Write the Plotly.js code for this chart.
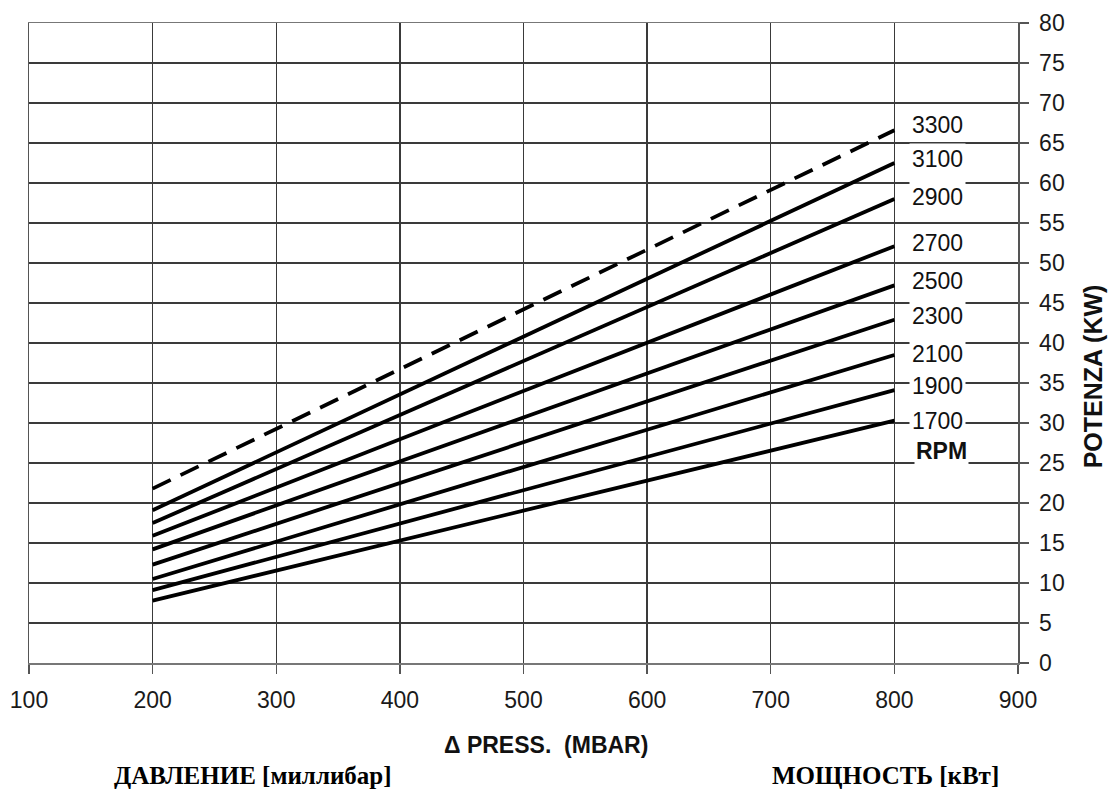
<!DOCTYPE html>
<html>
<head>
<meta charset="utf-8">
<script src="https://cdn.plot.ly/plotly-3.0.1.min.js"></script>
<style>html,body{margin:0;padding:0;background:#fff;}#chart{width:1109px;height:791px;}</style>
</head>
<body>
<div id="chart"></div>
<script>
// Data
const pressure = [200, 800];                       // Δ PRESS (MBAR)
const rpm = ['3300', '3100', '2900', '2700', '2500', '2300', '2100', '1900', '1700'];
const powerAt200 = [21.8, 19.1, 17.5, 15.9, 14.2, 12.3, 10.5, 9.1, 7.8];   // KW at 200 mbar
const powerAt800 = [66.6, 62.5, 58.0, 52.1, 47.2, 42.9, 38.5, 34.1, 30.3]; // KW at 800 mbar
const labelY = [67.3, 63.0, 58.2, 52.5, 47.7, 43.4, 38.6, 34.6, 30.2];     // label positions
const labelX = 835;
const rpmUnit = 'RPM';
const rpmUnitY = 26.45;
const xTicks = [100, 200, 300, 400, 500, 600, 700, 800, 900];
const yTicks = [0, 5, 10, 15, 20, 25, 30, 35, 40, 45, 50, 55, 60, 65, 70, 75, 80];

const traces = rpm.map((r, i) => ({
  type: 'scatter', mode: 'lines', name: r + ' RPM',
  x: pressure, y: [powerAt200[i], powerAt800[i]],
  line: {color: '#000', width: 3.8, dash: r === '3300' ? '20px,11px' : 'solid'},
  hoverinfo: 'x+y+name'
}));

const annotations = rpm.map((r, i) => ({
  x: labelX, y: labelY[i], xref: 'x', yref: 'y', text: r, showarrow: false,
  xanchor: 'center', yanchor: 'middle', bgcolor: '#fff', borderpad: 2,
  font: {family: 'Liberation Sans, Arial, sans-serif', size: 23, color: '#111'}
}));
annotations.push({
  x: labelX + 3, y: rpmUnitY, xref: 'x', yref: 'y', text: '<b>' + rpmUnit + '</b>', showarrow: false,
  xanchor: 'center', yanchor: 'middle', bgcolor: '#fff', borderpad: 1,
  font: {family: 'Liberation Sans, Arial, sans-serif', size: 23, color: '#111'}
});
annotations.push({
  x: 0.418, y: -0.1275, xref: 'paper', yref: 'paper', xanchor: 'left', yanchor: 'middle',
  text: '<b>Δ PRESS.\u00a0\u00a0(MBAR)</b>', showarrow: false,
  font: {family: 'Liberation Sans, Arial, sans-serif', size: 23, color: '#111'}
});
annotations.push({
  x: 1.0761, y: 0.4483, xref: 'paper', yref: 'paper', xanchor: 'center', yanchor: 'middle',
  textangle: -90, text: '<b>POTENZA (KW)</b>', showarrow: false,
  font: {family: 'Liberation Sans, Arial, sans-serif', size: 25, color: '#111'}
});
annotations.push({
  x: 0.226, y: -0.176, xref: 'paper', yref: 'paper', xanchor: 'center', yanchor: 'middle',
  text: '<b>ДАВЛЕНИЕ [миллибар]</b>', showarrow: false,
  font: {family: 'Liberation Serif, Times New Roman, serif', size: 25, color: '#000'}
});
annotations.push({
  x: 0.866, y: -0.176, xref: 'paper', yref: 'paper', xanchor: 'center', yanchor: 'middle',
  text: '<b>МОЩНОСТЬ [кВт]</b>', showarrow: false,
  font: {family: 'Liberation Serif, Times New Roman, serif', size: 25, color: '#000'}
});

const tickFont = {family: 'Liberation Sans, Arial, sans-serif', size: 23, color: '#1a1a1a'};

const layout = {
  width: 1109, height: 791,
  margin: {l: 28.5, r: 91.3, t: 22.5, b: 127.7, pad: 0},
  paper_bgcolor: '#fff', plot_bgcolor: '#fff',
  showlegend: false,
  xaxis: {
    range: [100, 900], tickvals: xTicks, ticktext: xTicks.map(String),
    showgrid: true, gridcolor: '#3a3a3a', gridwidth: 1.3,
    zeroline: false, showline: true, linecolor: '#777', linewidth: 1.5, mirror: true,
    ticks: 'outside', ticklen: 9, tickcolor: '#555', tickwidth: 1.3,
    ticklabelstandoff: 7, tickfont: tickFont, fixedrange: true
  },
  yaxis: {
    range: [0, 80], tickvals: yTicks, ticktext: yTicks.map(String), side: 'right',
    showgrid: true, gridcolor: '#3a3a3a', gridwidth: 1.3,
    zeroline: false, showline: true, linecolor: '#555', linewidth: 1.5, mirror: true,
    ticks: 'outside', ticklen: 9, tickcolor: '#555', tickwidth: 1.3,
    ticklabelstandoff: 6, tickfont: tickFont, fixedrange: true
  },
  annotations: annotations
};

Plotly.newPlot('chart', traces, layout, {displayModeBar: false, staticPlot: true});
</script>
</body>
</html>
